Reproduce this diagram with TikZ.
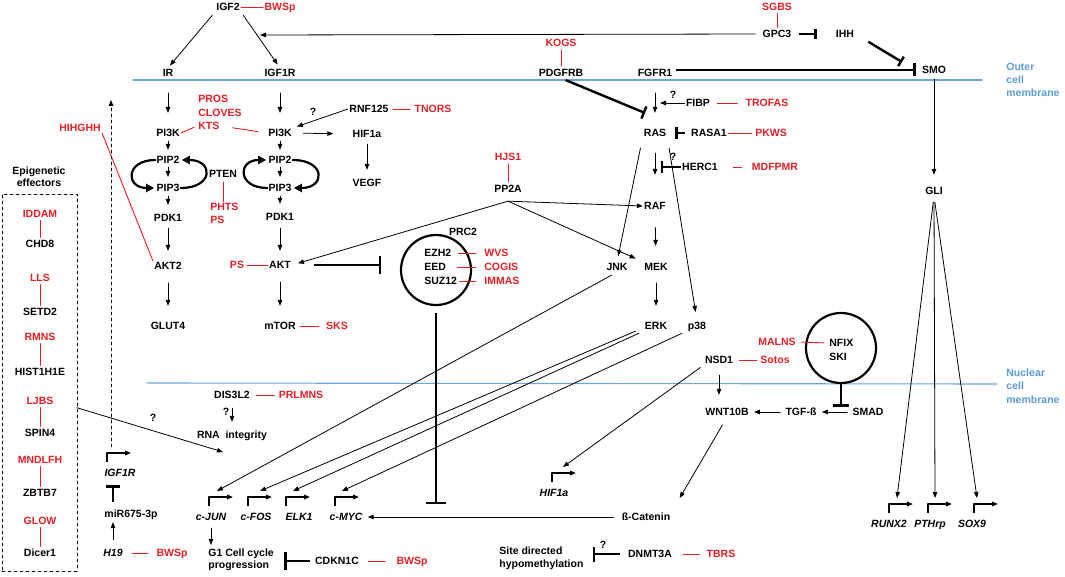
\documentclass[tikz,border=0pt]{standalone}
\usepackage{fontspec}
\setmainfont{Liberation Sans}
\usetikzlibrary{arrows.meta}
\definecolor{dred}{RGB}{228,30,36}
\definecolor{membline}{RGB}{105,165,225}
\definecolor{membtext}{RGB}{91,155,213}
\tikzset{every picture/.style={line width=0.8pt}}

\begin{document}
\begin{tikzpicture}[x=1pt, y=-1pt,
    line cap=round, line join=round,
    >={Stealth[length=6pt,width=4.5pt,inset=0pt]},
    gene/.style={font=\fontsize{10.5}{12}\selectfont\bfseries, text height=7.5pt, text depth=0pt, inner sep=1pt},
    genei/.style={gene, font=\fontsize{10.5}{12}\selectfont\bfseries\itshape},
    dis/.style={gene, text=dred},
    block/.style={font=\fontsize{10.5}{12}\selectfont\bfseries, align=left, inner sep=1pt},
    arr/.style={->},
    inh/.style={line width=2.4pt, line cap=butt, -{Bar[width=#1]}}, inh/.default=13pt,
    link/.style={dred, line width=0.9pt},
    prom/.style={line width=1.6pt, line cap=butt, ->},
    cyc/.style={line width=2.2pt, shorten >=1pt, -{Stealth[length=8pt,width=8pt,inset=0pt]}},
    memb/.style={membline, line width=1.1pt}]
  \useasboundingbox (0,0) rectangle (1065,577);

  % membranes
  \draw[memb] (133,80) -- (982,80);
  \draw[memb] (147,383) -- (997,384);
  \node[block, text=membtext, font=\fontsize{10.5}{13}\selectfont\bfseries, anchor=north west] (outer) at (1005,62) {Outer\\cell\\membrane};
  \node[block, text=membtext, font=\fontsize{10.5}{13.5}\selectfont\bfseries, anchor=north west] (nuclear) at (1005,367) {Nuclear\\cell\\membrane};

  % top receptors
  \node[gene] (igf2) at (228,7) {IGF2};
  \node[dis] (bws1) at (280,7) {BWSp};
  \node[dis] (sgbs) at (777,7) {SGBS};
  \node[gene] (gpc) at (777,34) {GPC3};
  \node[gene] (ihh) at (845,34) {IHH};
  \node[dis] (kogs) at (561,43) {KOGS};
  \node[gene] (ir) at (168,73) {IR};
  \node[gene] (igfonr) at (280,73) {IGF1R};
  \node[gene] (pdgf) at (561,73) {PDGFRB};
  \node[gene] (fgfr) at (655,73) {FGFR1};
  \node[gene] (smo) at (934,70) {SMO};

  % PI3K columns
  \node[dis, anchor=west] (pros) at (197,99) {PROS};
  \node[dis, anchor=west] (cloves) at (197,113) {CLOVES};
  \node[dis, anchor=west] (kts) at (197,126) {KTS};
  \node[dis] (hihghh) at (80,128) {HIHGHH};
  \node[gene] (rnf) at (369,109) {RNF125};
  \node[dis] (tnors) at (433,109) {TNORS};
  \node[gene] (q3) at (313,112) {?};
  \node[gene] (pikl) at (168,133) {PI3K};
  \node[gene] (pikr) at (280,133) {PI3K};
  \node[gene] (hifa) at (367,134) {HIF1a};
  \node[gene] (vegf) at (367,183) {VEGF};
  \node[gene] (pip2l) at (168,160) {PIP2};
  \node[gene] (pip3l) at (168,188) {PIP3};
  \node[gene] (pip2r) at (280,160) {PIP2};
  \node[gene] (pip3r) at (280,188) {PIP3};
  \node[gene] (pten) at (223,174) {PTEN};
  \node[dis, anchor=west] (phts) at (209,207) {PHTS};
  \node[dis, anchor=west] (ps1) at (209,220) {PS};
  \node[gene] (pdk1l) at (168,218) {PDK1};
  \node[gene] (pdk1r) at (280,217) {PDK1};
  \node[gene] (akt2) at (168,266) {AKT2};
  \node[gene] (akt) at (280,265) {AKT};
  \node[dis] (ps2) at (237,265) {PS};
  \node[gene] (glut) at (168,326) {GLUT4};
  \node[gene] (mtor) at (280,326) {mTOR};
  \node[dis] (sks) at (337,326) {SKS};

  % RAS branch
  \node[gene] (fibp) at (698,103) {FIBP};
  \node[dis] (trofas) at (767,103) {TROFAS};
  \node[gene] (q1) at (673,95) {?};
  \node[gene] (ras) at (655,133) {RAS};
  \node[gene] (rasa) at (709,133) {RASA1};
  \node[dis] (pkws) at (771,133) {PKWS};
  \node[gene] (herc) at (700,167) {HERC1};
  \node[dis] (mdfpmr) at (775,167) {MDFPMR};
  \node[gene] (q2) at (673,157) {?};
  \node[dis] (hjs) at (508,157) {HJS1};
  \node[gene] (pp2a) at (508,189) {PP2A};
  \node[gene] (raf) at (655,206) {RAF};
  \node[gene] (jnk) at (617,267) {JNK};
  \node[gene] (mek) at (656,267) {MEK};
  \node[gene] (erk) at (656,326) {ERK};
  \node[gene] (p38) at (697,326) {p38};
  \node[gene] (gli) at (934,191) {GLI};

  % PRC2 complex
  \node[circle, draw, line width=2.2pt, minimum size=70pt] (prc) at (436,270) {};
  \node[gene] (prclab) at (463,232) {PRC2};
  \node[gene, anchor=west] (ezh) at (423,253) {EZH2};
  \node[gene, anchor=west] (eed) at (423,267) {EED};
  \node[gene, anchor=west] (suz) at (423,281) {SUZ12};
  \node[dis, anchor=west] (wvs) at (483,253) {WVS};
  \node[dis, anchor=west] (cogis) at (483,267) {COGIS};
  \node[dis, anchor=west] (immas) at (483,281) {IMMAS};

  % NFIX / SKI and nucleus
  \node[circle, draw, line width=2.2pt, minimum size=70pt] (nfix) at (841,348) {};
  \node[gene, anchor=west] (nfixt) at (828,343) {NFIX};
  \node[gene, anchor=west] (ski) at (828,357) {SKI};
  \node[dis] (malns) at (777,342) {MALNS};
  \node[gene] (nsd) at (719,360) {NSD1};
  \node[dis] (sotos) at (775,360) {Sotos};
  \node[gene] (dis3) at (232,395) {DIS3L2};
  \node[dis] (prlmns) at (301,395) {PRLMNS};
  \node[gene] (q5) at (226,412) {?};
  \node[gene] (rna) at (232,435) {RNA\ \ integrity};
  \node[gene] (q4) at (153,418) {?};
  \node[gene] (wnt) at (727,412) {WNT10B};
  \node[gene] (tgf) at (801,412) {TGF-ß};
  \node[gene] (smad) at (868,412) {SMAD};
  \node[genei] (igfr) at (120,473) {IGF1R};
  \node[genei] (hif) at (554,493) {HIF1a};
  \node[gene] (mir) at (131,514) {miR675-3p};
  \node[genei] (cjun) at (211,517) {c-JUN};
  \node[genei] (cfos) at (256,517) {c-FOS};
  \node[genei] (elk) at (299,517) {ELK1};
  \node[genei] (cmyc) at (346,517) {c-MYC};
  \node[gene] (bcat) at (646,517) {ß-Catenin};
  \node[genei] (runx) at (889,524) {RUNX2};
  \node[genei] (pthrp) at (930,524) {PTHrp};
  \node[genei] (sox) at (972,524) {SOX9};
  \node[genei] (h19) at (113,553) {H19};
  \node[dis] (bws2) at (172,553) {BWSp};
  \node[block, anchor=north west] (g1) at (207,547) {G1 Cell cycle\\progression};
  \node[gene] (cdkn) at (337,561) {CDKN1C};
  \node[dis] (bws3) at (412,561) {BWSp};
  \node[block, font=\fontsize{10.5}{13}\selectfont\bfseries, anchor=north west] (sd) at (498,545) {Site directed\\hypomethylation};
  \node[gene] (q6) at (603,545) {?};
  \node[gene] (dnmt) at (650,554) {DNMT3A};
  \node[dis] (tbrs) at (721,554) {TBRS};

  % epigenetic effectors
  \node[draw, dashed, minimum width=75pt, minimum height=377pt, inner sep=0pt] (epibox) at (39.5,382.5) {};
  \node[block, align=center] (epilab) at (39,177) {Epigenetic\\effectors};
  \foreach \d/\g/\yd/\yg [count=\i] in {IDDAM/CHD8/214/244, LLS/SETD2/278/312,
      RMNS/HIST1H1E/337/372, LJBS/SPIN4/401/433, MNDLFH/ZBTB7/460/493, GLOW/Dicer1/521/553}{
    \node[dis] (ed\i) at (40,\yd) {\d};
    \node[gene] (eg\i) at (40,\yg) {\g};
    \draw[link, shorten <=1.5pt, shorten >=1.5pt] (ed\i) -- (eg\i);
  }

  % promoters
  \foreach \g/\dx/\tx [evaluate=\tx as \ex using \dx+\tx] in {cjun/-2/8, cfos/-8/12, elk/-13/7,
      cmyc/-11/7, hif/-2/11, igfr/-13/4, runx/0/8, pthrp/-2/7, sox/2/3}{
    \draw[prom] ([xshift=\dx pt, yshift=11pt]\g.center) -- ++(0,-9) -- ++(24,0);
    \coordinate (\g-t) at ([xshift=\ex pt, yshift=26pt]\g.center);
  }

  % free ends
  \coordinate (gpcend) at (260,35);
  \coordinate (smohit) at (902,62);
  \coordinate (rasbar) at (645,113);
  \coordinate (rasin) at (655,93);
  \coordinate (fibpend) at (660,103);
  \coordinate (hercbar) at (661,167);
  \coordinate (prcend) at (436,504);
  \coordinate (rnain) at (223,452);
  \coordinate (igfup) at (111,100);
  \coordinate (pp2ab) at ([yshift=-7pt]pp2a.south);

  % disease links
  \draw[link] (igf2) -- (bws1);
  \draw[link, shorten <=1.5pt, shorten >=1.5pt] (sgbs) -- (gpc);
  \draw[link, shorten <=2pt, shorten >=2pt] (kogs) -- (pdgf);
  \draw[link, shorten <=12pt, shorten >=9pt] (kts.east) -- (pikr.west);
  \draw[link, shorten <=3pt] (kts.west) -- (pikl.east);
  \draw[link, shorten <=3pt, shorten >=3pt] (rnf) -- (tnors);
  \draw[link] (hihghh.south east) -- (akt2.north west);
  \draw[link, shorten <=3pt] (pten.south) -- (pten.south |- phts.north);
  \draw[link, shorten <=2pt] (ps2) -- (akt);
  \draw[link, shorten <=3pt, shorten >=6pt] (mtor) -- (sks);
  \draw[link, shorten <=2pt, shorten >=2pt] (hjs) -- (pp2a);
  \foreach \a/\b/\s in {ezh/wvs/6, eed/cogis/10, suz/immas/1}
    \draw[link, shorten <=\s pt, shorten >=7pt] (\a.east) -- (\b.west);
  \draw[link, shorten <=6pt, shorten >=7pt] (fibp) -- (trofas);
  \draw[link, shorten >=2pt] (rasa) -- (pkws);
  \draw[link, shorten <=14pt, shorten >=9pt] (herc) -- (mdfpmr);
  \draw[link, shorten <=5pt, shorten >=4pt] (malns.east) -- (nfixt.west);
  \draw[link, shorten <=5pt, shorten >=2pt] (nsd) -- (sotos);
  \draw[link, shorten <=5pt, shorten >=3pt] (dis3) -- (prlmns);
  \draw[link, shorten <=8pt, shorten >=7pt] (h19) -- (bws2);
  \draw[link, shorten <=8pt, shorten >=10pt] (cdkn) -- (bws3);
  \draw[link, shorten <=10pt, shorten >=6pt] (dnmt) -- (tbrs);

  % top signalling
  \draw[arr, shorten <=4pt, shorten >=3pt] (igf2.south west) -- (ir.north);
  \draw[arr, shorten <=4pt, shorten >=4pt] (igf2.south east) -- (igfonr.north);
  \draw[arr, shorten <=6pt] (gpc.west) -- (gpcend);
  \draw[inh=10pt, shorten <=6pt, shorten >=18pt] (gpc.east) -- (ihh.west);
  \draw[inh=11pt, shorten <=15pt] (ihh.east) -- (smohit);
  \draw[inh=13pt, shorten <=2pt, shorten >=5pt] (fgfr.east |- smo.west) -- (smo.west);
  \draw[arr, shorten <=4pt, shorten >=11pt] (smo.south) -- (gli.north);

  % PI3K cascade
  \draw[arr, shorten <=15pt, shorten >=15pt] (ir.south) -- (pikl.north);
  \draw[arr, shorten <=15pt, shorten >=15pt] (igfonr.south) -- (pikr.north);
  \foreach \a/\b/\s/\t in {pikl/pip2l/3/5, pip2l/pip3l/2/6, pip3l/pdk1l/3/8, pdk1l/akt2/5/10,
      akt2/glut/12/15, pikr/pip2r/3/5, pip2r/pip3r/2/6, pip3r/pdk1r/3/8, pdk1r/akt/6/9,
      akt/mtor/12/15, hifa/vegf/5/8}
    \draw[arr, shorten <=\s pt, shorten >=\t pt] (\a.south) -- (\b.north);
  \draw[cyc] (pip2l.west) .. controls +(-30,0) and +(-30,0) .. (pip3l.west);
  \draw[cyc] (pip3l.east) .. controls +(33,0) and +(33,0) .. (pip2l.east);
  \draw[cyc] (pip3r.west) .. controls +(-30,0) and +(-30,0) .. (pip2r.west);
  \draw[cyc] (pip2r.east) .. controls +(33,0) and +(33,0) .. (pip3r.east);
  \draw[arr, shorten <=10pt, shorten >=18pt] (pikr.east) -- (hifa.west);
  \draw[arr, shorten >=4pt] (rnf.west) -- (pikr.north east);
  \draw[inh=18pt, shorten <=22pt, shorten >=19pt] (akt.east) -- (akt.east -| prc.west);
  \draw[inh=20pt, shorten <=7pt] (prc.south) -- (prcend);

  % RAS cascade
  \draw[inh=13pt, shorten <=5pt] (pdgf.south) -- (rasbar);
  \draw[arr, shorten >=15pt] (rasin) -- (ras.north);
  \draw[arr] (fibp.west) -- (fibpend);
  \draw[inh=12pt, shorten <=5pt, shorten >=8pt] (rasa.west) -- (ras.east);
  \draw[arr, shorten <=15pt, shorten >=26pt] (ras.south) -- (raf.north);
  \draw[inh=12pt] (herc.west) -- (hercbar);
  \draw[arr, shorten <=10pt, shorten >=6pt] (ras.south west) -- (jnk.north);
  \draw[arr, shorten <=10pt, shorten >=9pt] (ras.south east) -- (p38.north);
  \draw[arr, shorten >=6pt] (pp2ab) -- (akt.east);
  \draw[arr] (pp2ab) -- (raf.west);
  \draw[arr, shorten >=8pt] (pp2ab) -- (mek.north west);
  \draw[arr, shorten <=16pt, shorten >=16pt] (raf.south) -- (mek.north);
  \draw[arr, shorten <=11pt, shorten >=15pt] (mek.south) -- (erk.north);

  % into the nucleus
  \draw[arr, shorten <=6pt] (jnk.south) -- (cjun-t);
  \draw[arr] ([xshift=-8pt]erk.south west) -- (cfos-t);
  \draw[arr, shorten <=5pt] (erk.south west) -- (elk-t);
  \draw[arr, shorten <=5pt] (p38.south west) -- (cmyc-t);
  \draw[arr, shorten <=4pt] (nsd.south west) -- (hif-t);
  \foreach \g in {runx, pthrp, sox}
    \draw[arr, shorten <=6pt] (gli.south) -- (\g-t);
  \draw[arr, dashed] (igfr-t) -- (igfup);
  \draw[inh=16pt] (nfix.south) -- (nfix.south |- smad.north);
  \draw[arr, shorten <=4pt, shorten >=4pt] (smad.west) -- (tgf.east);
  \draw[arr, shorten <=4pt, shorten >=4pt] (tgf.west) -- (wnt.east);
  \draw[arr, shorten <=10pt, shorten >=12pt] (nsd.south) -- (nsd.south |- wnt.north);
  \draw[arr, shorten <=9pt, shorten >=16pt] (wnt.south) -- (bcat.north east);
  \draw[arr, shorten <=7pt, shorten >=4pt] (bcat.west) -- (cmyc.east);
  \draw[arr, shorten <=8pt, shorten >=8pt] (dis3.south) -- (rna.north);
  \draw[arr, shorten <=23pt] (ed4.east) -- (rnain);

  % bottom
  \draw[arr, shorten <=8pt, shorten >=3pt] (h19.north) -- (h19.north |- mir.south);
  \draw[inh=14pt, shorten <=7pt, shorten >=7pt] (mir.north -| h19.north) -- (igfr.south -| h19.north);
  \draw[arr, shorten <=6pt, shorten >=2pt] (cjun.south) -- (cjun.south |- g1.north);
  \draw[inh=18pt, shorten <=4pt, shorten >=9pt] (cdkn.west) -- (g1.east |- cdkn.west);
  \draw[inh=15pt, shorten <=7pt, shorten >=8pt] (dnmt.west) -- (sd.east |- dnmt.west);
\end{tikzpicture}
\end{document}
